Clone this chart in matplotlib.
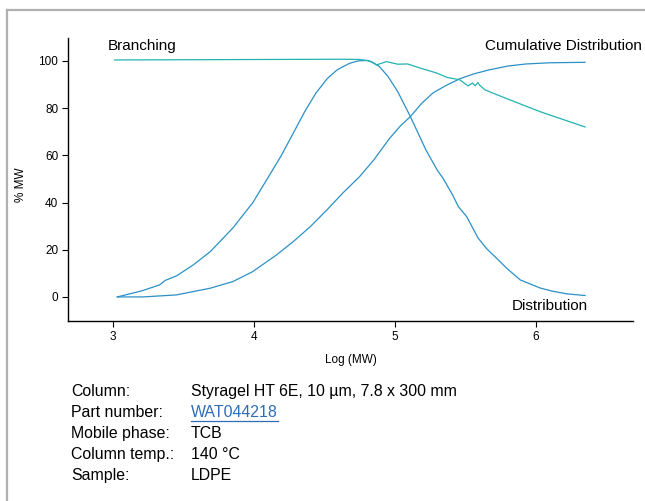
import matplotlib
matplotlib.use("Agg")
import matplotlib.pyplot as plt
from matplotlib.lines import Line2D

plt.rcParams['font.family'] = ['Liberation Sans', 'DejaVu Sans']

# Molar mass distribution of LDPE (log MW vs % MW)
dist_x = [3.03, 3.20, 3.33, 3.37, 3.45, 3.57, 3.69, 3.85, 3.99, 4.09, 4.19, 4.28,
          4.36, 4.44, 4.52, 4.59, 4.64, 4.68, 4.74, 4.80, 4.84, 4.89, 4.95, 5.02,
          5.11, 5.22, 5.30, 5.34, 5.41, 5.45, 5.51, 5.59, 5.65, 5.72, 5.80, 5.89,
          6.03, 6.12, 6.22, 6.35]
dist_y = [0, 2.5, 5.1, 7.0, 8.9, 13.6, 19.2, 29.2, 39.8, 49.6, 59.5, 69.5,
          78.5, 86.4, 92.5, 96.2, 97.8, 99.0, 100.0, 100.2, 99.5, 97.6, 93.5, 87.0,
          76.4, 62.3, 53.8, 50.4, 43.2, 38.3, 34.0, 25.0, 20.5, 16.5, 11.8, 7.2,
          3.8, 2.4, 1.3, 0.6]

cum_x = [3.03, 3.21, 3.45, 3.69, 3.85, 3.99, 4.16, 4.28, 4.40, 4.52, 4.63, 4.75,
         4.85, 4.96, 5.04, 5.11, 5.19, 5.27, 5.36, 5.46, 5.56, 5.67, 5.80, 5.93,
         6.10, 6.35]
cum_y = [0, 0, 0.85, 3.7, 6.5, 10.7, 17.8, 23.5, 29.8, 37.0, 44.0, 51.0,
         58.0, 67.0, 72.5, 76.4, 82.0, 86.4, 89.5, 92.4, 94.5, 96.2, 97.8, 98.7,
         99.2, 99.4]

branch_x = [3.01, 4.61, 4.75, 4.82, 4.87, 4.94, 5.02, 5.09, 5.20, 5.30, 5.37,
            5.46, 5.52, 5.55, 5.57, 5.59, 5.60, 5.64, 5.79, 6.03, 6.35]
branch_y = [100.4, 100.7, 100.6, 100.0, 98.3, 99.7, 98.6, 98.7, 96.6, 94.8, 93.0,
            92.0, 89.4, 90.6, 89.5, 90.8, 89.8, 87.7, 84.1, 78.5, 72.0]

xticks = [3, 4, 5, 6]
yticks = [0, 20, 40, 60, 80, 100]

conditions = [
    ("Column:", "Styragel HT 6E, 10 µm, 7.8 x 300 mm"),
    ("Part number:", "WAT044218"),
    ("Mobile phase:", "TCB"),
    ("Column temp.:", "140 °C"),
    ("Sample:", "LDPE"),
]

W, H = 645, 501
fig = plt.figure(figsize=(W / 100, H / 100), dpi=100)

# grey page frame
fig.add_artist(Line2D([7 / W, 1], [1 - 10 / H, 1 - 10 / H], color="#b0b0b0", lw=1.6))
fig.add_artist(Line2D([7 / W, 7 / W], [0, 1 - 10 / H], color="#b0b0b0", lw=1.6))

ax = fig.add_axes([68 / W, 1 - 321 / H, (633 - 68) / W, (321 - 38) / H])
blue = "#2b90c6"
teal = "#22b3b0"
ax.plot(dist_x, dist_y, color=blue, lw=0.9)
ax.plot(cum_x, cum_y, color=blue, lw=0.9)
ax.plot(branch_x, branch_y, color=teal, lw=0.9)

ax.set_xlim(2.68, 6.69)
ax.set_ylim(-10.2, 109.7)
ax.set_xticks(xticks)
ax.set_yticks(yticks)
for s in ["top", "right"]:
    ax.spines[s].set_visible(False)
for s in ["left", "bottom"]:
    ax.spines[s].set_linewidth(1.0)
ax.tick_params(direction="out", length=4, width=0.8, labelsize=8.5, pad=3)
ax.set_xlabel("Log (MW)", fontsize=8.5, labelpad=8)
ax.set_ylabel("% MW", fontsize=8.5)
ax.yaxis.set_label_coords(-0.073, 0.48)

ax.text(2.965, 106.4, "Branching", fontsize=11, ha="left", va="center")
ax.text(6.755, 106.4, "Cumulative Distribution", fontsize=11, ha="right", va="center",
        clip_on=False)
ax.text(6.37, -4.0, "Distribution", fontsize=11, ha="right", va="center")

# run conditions below the plot
row_y = [396, 417, 438, 459, 480]
for (label, value), yy in zip(conditions, row_y):
    fig.text(71 / W, 1 - yy / H, label, fontsize=11.4, va="baseline", ha="left")
    t = fig.text(191 / W, 1 - yy / H, value, fontsize=11.4, va="baseline", ha="left",
                 color="#2f6db5" if label == "Part number:" else "black")
    if label == "Part number:":
        fig.canvas.draw()
        bb = t.get_window_extent()
        uy = (bb.y0 - 0.5) / H
        fig.add_artist(Line2D([bb.x0 / W, bb.x1 / W], [uy, uy], color="#2f6db5", lw=0.9))

fig.savefig("out.png", dpi=100)
